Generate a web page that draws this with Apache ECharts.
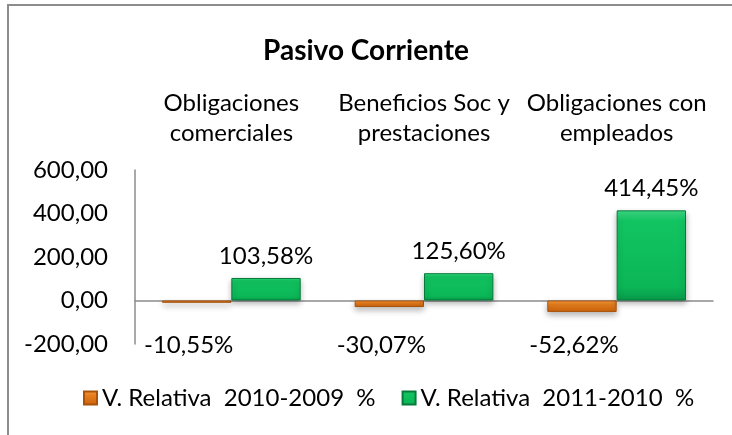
<!DOCTYPE html>
<html>
<head>
<meta charset="utf-8">
<script src="https://cdn.jsdelivr.net/npm/echarts@6/dist/echarts.min.js"></script>
<style>
  html, body { margin: 0; padding: 0; background: #fff; }
  #chart { width: 732px; height: 435px; }
</style>
</head>
<body>
<div id="chart"></div>
<script>
// Data
const categories = ['Obligaciones\ncomerciales', 'Beneficios Soc y\nprestaciones', 'Obligaciones con\nempleados'];
const rel2010 = [-10.55, -30.07, -52.62];
const rel2011 = [103.58, 125.60, 414.45];
const seriesNames = ['V. Relativa  2010-2009  %', 'V. Relativa  2011-2010  %'];
const yTicks = { min: -200, max: 600, interval: 200 };

const FONT = 'Lato';
const FS = 24;
const fmt = v => v.toFixed(2).replace('.', ',');

const chart = echarts.init(document.getElementById('chart'));

const greenFill = new echarts.graphic.LinearGradient(0, 0, 0, 1, [
  { offset: 0, color: '#3ddc86' },
  { offset: 0.12, color: '#12c461' },
  { offset: 0.85, color: '#0bb656' },
  { offset: 1, color: '#08994a' }
]);
const orangeFill = new echarts.graphic.LinearGradient(0, 0, 0, 1, [
  { offset: 0, color: '#f4a04a' },
  { offset: 0.3, color: '#e8801f' },
  { offset: 1, color: '#c9620c' }
]);

chart.setOption({
  animation: false,
  textStyle: { fontFamily: FONT },
  title: {
    text: 'Pasivo Corriente',
    left: 'center',
    top: 32,
    textStyle: { fontFamily: FONT, fontSize: 28, fontWeight: 'bold', color: '#000' }
  },
  graphic: [{
    type: 'rect',
    shape: { x: 8, y: 5, width: 740, height: 450 },
    style: { fill: 'none', stroke: '#8c8c8c', lineWidth: 2 },
    silent: true
  }],
  legend: {
    bottom: 20,
    left: 78,
    itemWidth: 13,
    itemHeight: 13,
    itemGap: 26,
    icon: 'rect',
    textStyle: { fontFamily: FONT, fontSize: FS, color: '#000' },
    data: seriesNames
  },
  grid: { left: 135, right: 19, top: 170, bottom: 91, containLabel: false },
  xAxis: [{
    type: 'category',
    data: categories,
    position: 'bottom',
    axisLine: { onZero: true, lineStyle: { color: '#8c8c8c', width: 1.5 } },
    axisTick: { show: false },
    axisLabel: { show: false }
  }, {
    type: 'category',
    data: categories,
    position: 'top',
    axisLine: { show: false },
    axisTick: { show: false },
    axisLabel: { interval: 0, fontFamily: FONT, fontSize: FS, color: '#000', lineHeight: 30, margin: 22 }
  }],
  yAxis: {
    type: 'value',
    min: yTicks.min,
    max: yTicks.max,
    interval: yTicks.interval,
    axisLine: { show: true, lineStyle: { color: '#8c8c8c', width: 1.5 } },
    axisTick: { show: false },
    splitLine: { show: false },
    axisLabel: { fontFamily: FONT, fontSize: FS, color: '#000', margin: 27, formatter: fmt }
  },
  series: [{
    name: seriesNames[0],
    type: 'bar',
    data: rel2010,
    barWidth: '36%',
    barGap: '0%',
    itemStyle: {
      color: orangeFill,
      borderColor: '#a9530a',
      borderWidth: 1,
      shadowBlur: 6,
      shadowOffsetY: 3,
      shadowColor: 'rgba(0,0,0,0.3)'
    },
    label: {
      show: true,
      position: 'bottom',
      fontFamily: FONT,
      fontSize: FS,
      color: '#000',
      formatter: p => fmt(p.value) + '%'
    },
    labelLayout: () => ({ y: 345, dx: -8, align: 'center', verticalAlign: 'middle' })
  }, {
    name: seriesNames[1],
    type: 'bar',
    data: rel2011,
    barWidth: '36%',
    itemStyle: {
      color: greenFill,
      borderColor: '#077a3a',
      borderWidth: 1,
      shadowBlur: 6,
      shadowOffsetY: 3,
      shadowColor: 'rgba(0,0,0,0.3)'
    },
    label: {
      show: true,
      position: 'top',
      distance: 10,
      fontFamily: FONT,
      fontSize: FS,
      color: '#000',
      formatter: p => fmt(p.value) + '%'
    }
  }]
});
</script>
</body>
</html>
